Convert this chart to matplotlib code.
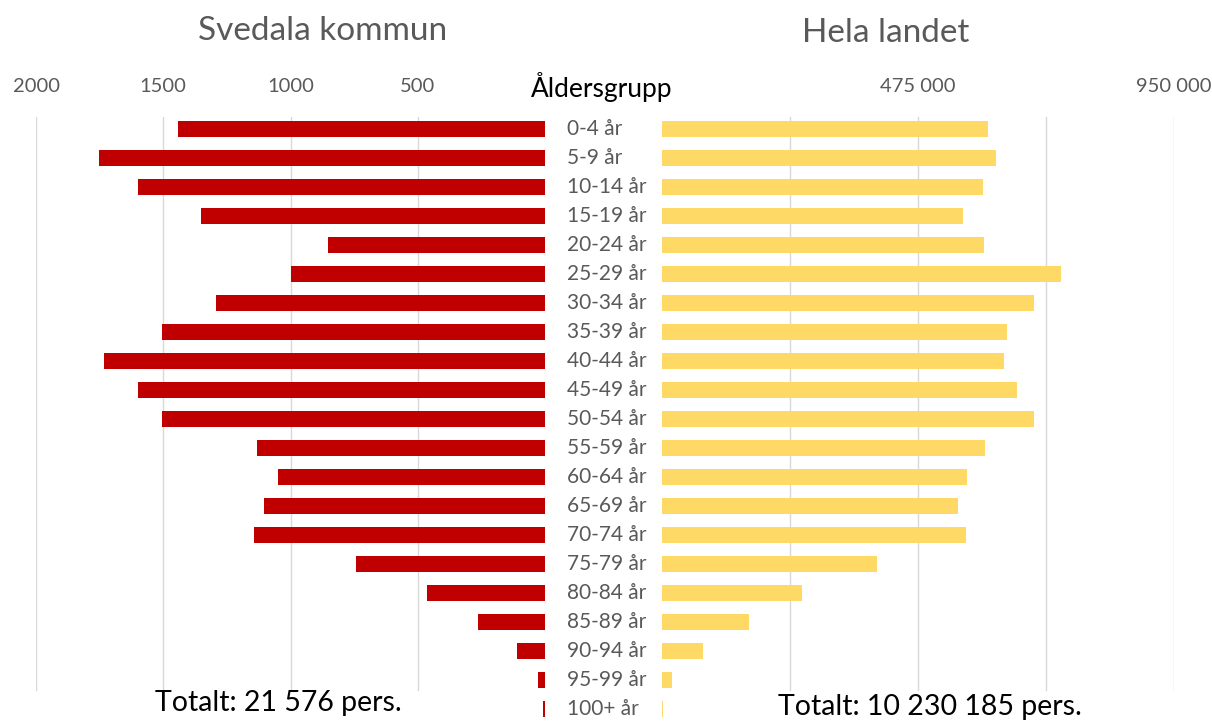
import matplotlib.pyplot as plt
import matplotlib.transforms as mtransforms

plt.rcParams['font.family'] = ['Lato', 'DejaVu Sans']

grupper = ['0-4 år', '5-9 år', '10-14 år', '15-19 år', '20-24 år', '25-29 år',
           '30-34 år', '35-39 år', '40-44 år', '45-49 år', '50-54 år', '55-59 år',
           '60-64 år', '65-69 år', '70-74 år', '75-79 år', '80-84 år', '85-89 år',
           '90-94 år', '95-99 år', '100+ år']
svedala = [1441, 1752, 1598, 1350, 854, 1000, 1291, 1504, 1732, 1598, 1504,
           1130, 1051, 1106, 1142, 744, 465, 264, 110, 28, 6]
landet = [604900, 619700, 595600, 558500, 597500, 740300, 690200, 640100,
          634600, 658700, 690200, 599300, 565900, 549200, 564100, 398900,
          259800, 161400, 76100, 18600, 2000]
left_ticks = [2000, 1500, 1000, 500]
right_ticks = [475000, 950000]
right_minor = [237500, 712500]

grey = '#595959'
red = '#C00000'
yellow = '#FFD966'

W, H = 1212, 722
fig = plt.figure(figsize=(W / 100, H / 100), dpi=100)

ax_top, ax_bot = 117, 721
grid_end = 690
bottom = 1 - ax_bot / H
height = (ax_bot - ax_top) / H
axL = fig.add_axes([36 / W, bottom, (545 - 36) / W, height])
axR = fig.add_axes([662 / W, bottom, (1174 - 662) / W, height])

ypos = list(range(len(grupper)))
pad = 12 / 29
gmin = (ax_bot - grid_end) / (ax_bot - ax_top)

axL.barh(ypos, svedala, height=0.55, color=red, zorder=2)
axL.set_xlim(2000, 0)
axL.set_xticks(left_ticks)
axL.set_xticklabels([str(v) for v in left_ticks])
for v in left_ticks:
    axL.axvline(v, ymin=gmin, ymax=1, color='#D9D9D9', lw=1, zorder=1)

axR.barh(ypos, landet, height=0.55, color=yellow, zorder=2)
axR.set_xlim(0, 950000)
axR.set_xticks(right_ticks)
axR.set_xticklabels(['475 000', '950 000'])
for v in right_minor + right_ticks:
    axR.axvline(v, ymin=gmin, ymax=1, color='#D9D9D9', lw=1, zorder=1)

for ax in (axL, axR):
    ax.set_ylim(len(grupper) - 1 + pad, -pad)
    ax.set_yticks([])
    ax.xaxis.tick_top()
    ax.tick_params(axis='x', length=0, pad=16, labelsize=14.5, labelcolor=grey)
    for s in ax.spines.values():
        s.set_visible(False)
    ax.patch.set_alpha(0)

trans = mtransforms.blended_transform_factory(fig.transFigure, axL.transData)
for y, g in zip(ypos, grupper):
    axL.text(567 / W, y, g, transform=trans, ha='left', va='center',
             fontsize=15, color=grey, clip_on=False)

fig.text(602 / W, 1 - 87 / H, 'Åldersgrupp', ha='center', va='center',
         fontsize=19, color='black')
fig.text(323 / W, 1 - 31 / H, 'Svedala kommun', ha='center', va='center',
         fontsize=24, color=grey)
fig.text(886 / W, 1 - 33 / H, 'Hela landet', ha='center', va='center',
         fontsize=24, color=grey)
fig.text(155 / W, 1 - 703 / H, 'Totalt: 21 576 pers.', ha='left', va='center',
         fontsize=20.5, color='black')
fig.text(778 / W, 1 - 707 / H, 'Totalt: 10 230 185 pers.', ha='left', va='center',
         fontsize=20.5, color='black')

fig.savefig('out.png', dpi=100)
